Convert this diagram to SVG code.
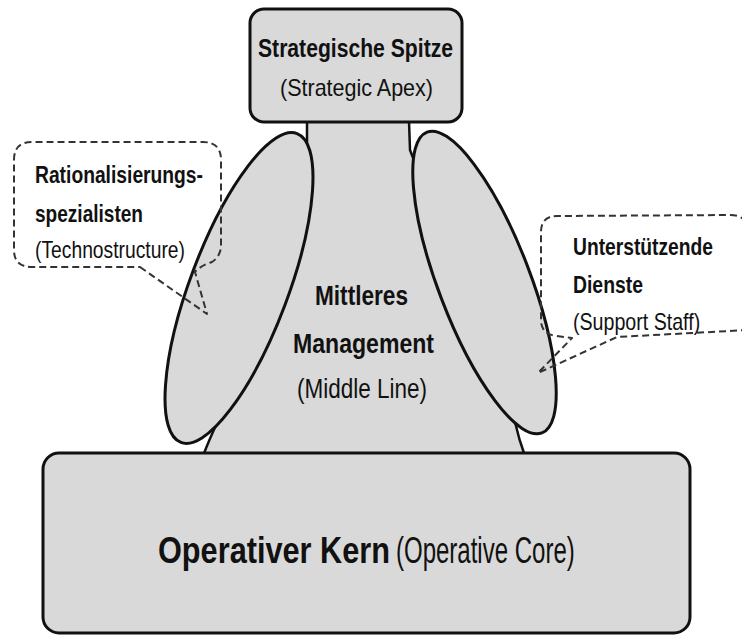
<svg xmlns="http://www.w3.org/2000/svg" width="742" height="637" viewBox="0 0 742 637">
<style>
.shape{fill:#d9d9d9;stroke:#111;stroke-width:3}
.mid{fill:#d9d9d9;stroke:#111;stroke-width:2.5;stroke-linejoin:round}
.callout{fill:none;stroke:#333;stroke-width:2;stroke-dasharray:7 4;stroke-linejoin:round}
.b{font-family:"Liberation Sans",Arial,sans-serif;font-weight:bold;fill:#111}
.r{font-family:"Liberation Sans",Arial,sans-serif;font-weight:normal;fill:#111}
</style>
<rect width="742" height="637" fill="#ffffff"/>
<g id="middle-line">
<path class="mid" d="M307,121 L409,121 L410,150 L515,422 Q519,440 525,456 L203,456 Q209,440 218,421 L307,150 Z"/>
</g>
<g id="technostructure-shape">
<ellipse class="shape" cx="239" cy="288" rx="49" ry="165" transform="rotate(20.6 239 288)"/>
</g>
<g id="support-staff-shape">
<ellipse class="shape" cx="484.5" cy="282.5" rx="46" ry="161" transform="rotate(-20.9 484.5 282.5)"/>
</g>
<g id="strategic-apex">
<rect class="shape" x="250" y="9" width="212" height="113" rx="14"/>
<text class="b" x="258" y="57" font-size="25" textLength="195" lengthAdjust="spacingAndGlyphs">Strategische Spitze</text>
<text class="r" x="280" y="96" font-size="24" textLength="153" lengthAdjust="spacingAndGlyphs">(Strategic Apex)</text>
</g>
<g id="operative-core">
<rect class="shape" x="43" y="453" width="647" height="180" rx="16"/>
<text class="b" transform="translate(158 563) scale(0.8 1)" x="0" y="0" font-size="37" textLength="290" lengthAdjust="spacingAndGlyphs">Operativer Kern</text>
<text class="r" transform="translate(396 563) scale(0.65 1)" x="0" y="0" font-size="37" textLength="275" lengthAdjust="spacingAndGlyphs">(Operative Core)</text>
</g>
<g id="middle-line-label">
<text class="b" x="315" y="305" font-size="27" textLength="93" lengthAdjust="spacingAndGlyphs">Mittleres</text>
<text class="b" x="293" y="353" font-size="27" textLength="141" lengthAdjust="spacingAndGlyphs">Management</text>
<text class="r" x="297" y="398" font-size="27" textLength="130" lengthAdjust="spacingAndGlyphs">(Middle Line)</text>
</g>
<g id="connectors">
<path id="technostructure-callout" class="callout" d="M140,267 L207,314 L195,272 Q200,266 212,262 Q221,256 221,245 L221,160 Q221,142 203,142 L32,142 Q14,142 14,160 L14,250 Q14,267 32,267 Z"/>
<path id="support-staff-callout" class="callout" d="M748,330 L617,337 L538,373 L572,338 L556,336 Q541,334 541,320 L541,232 Q541,216 557,216 L730,215 Q748,215 748,232"/>
</g>
<g id="technostructure">
<text class="b" x="35" y="183" font-size="24" textLength="168" lengthAdjust="spacingAndGlyphs">Rationalisierungs-</text>
<text class="b" x="35" y="222" font-size="24" textLength="108" lengthAdjust="spacingAndGlyphs">spezialisten</text>
<text class="r" x="35" y="258" font-size="24" textLength="150" lengthAdjust="spacingAndGlyphs">(Technostructure)</text>
</g>
<g id="support-staff">
<text class="b" transform="translate(573 255) scale(0.8 1)" x="0" y="0" font-size="24" textLength="175" lengthAdjust="spacingAndGlyphs">Unterstützende</text>
<text class="b" transform="translate(573 293) scale(0.8 1)" x="0" y="0" font-size="24" textLength="87.5" lengthAdjust="spacingAndGlyphs">Dienste</text>
<text class="r" transform="translate(573 330) scale(0.8 1)" x="0" y="0" font-size="24" textLength="159" lengthAdjust="spacingAndGlyphs">(Support Staff)</text>
</g>
</svg>
